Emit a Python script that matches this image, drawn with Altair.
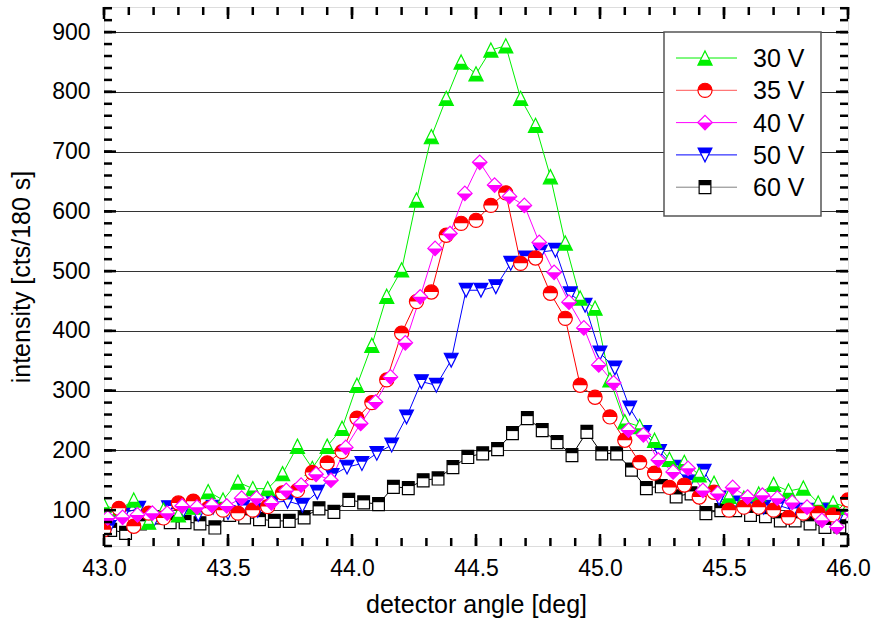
import altair as alt
import pandas as pd

# ---------------- data ----------------
angles = [round(43.0 + 0.06 * k, 3) for k in range(51)]

v30 = [108, 100, 117, 80, 100, 92, 105, 131, 117, 147, 136, 136, 161, 207, 170, 207, 237, 309, 376, 458,
       502, 619, 725, 789, 850, 830, 870, 877, 789, 744, 658, 547, 455, 438, 318, 248, 240, 217, 185, 180,
       159, 145, 123, 120, 127, 143, 132, 137, 112, 112, 105]
v35 = [67, 103, 73, 95, 87, 112, 115, 103, 100, 95, 100, 106, 129, 133, 163, 179, 198, 254, 280, 318,
       396, 449, 465, 560, 580, 585, 610, 631, 513, 522, 463, 421, 309, 289, 256, 217, 180, 162, 138, 142,
       122, 130, 100, 105, 105, 100, 88, 95, 95, 92, 117]
v40 = [87, 88, 92, 95, 95, 107, 105, 108, 107, 120, 120, 112, 133, 142, 160, 150, 205, 245, 281, 323,
       380, 457, 538, 563, 630, 682, 644, 625, 610, 548, 498, 448, 405, 343, 313, 234, 226, 184, 164, 170,
       133, 128, 138, 122, 125, 120, 113, 105, 83, 72, 95]
v50 = [71, 95, 103, 83, 104, 100, 93, 105, 96, 105, 100, 113, 115, 108, 130, 158, 172, 178, 195, 209,
       256, 315, 309, 351, 468, 468, 474, 513, 522, 532, 535, 462, 443, 363, 338, 271, 230, 198, 172, 147,
       165, 120, 112, 108, 105, 108, 100, 100, 100, 88, 108]
v60 = [67, 62, 78, 88, 80, 80, 78, 71, 92, 88, 85, 82, 82, 88, 103, 97, 117, 113, 110, 139,
       137, 150, 153, 172, 189, 195, 202, 229, 254, 234, 214, 192, 231, 195, 195, 168, 137, 140, 123, 128,
       95, 100, 100, 92, 90, 83, 83, 78, 72, 73]

series_labels = ["30 V", "35 V", "40 V", "50 V", "60 V"]
series_values = [v30, v35, v40, v50, v60]
series_colors = ["#00f000", "#ff0000", "#ff00ff", "#0000ff", "#000000"]
series_xshift = [0.0, 0.0, 0.015, 0.02, 0.027]

x_labels = [43.0, 43.5, 44.0, 44.5, 45.0, 45.5, 46.0]
y_labels = [100, 200, 300, 400, 500, 600, 700, 800, 900]

# marker shapes (outline, half-fill) in unit coordinates
shapes = {
    "30 V": ("M0,-1L1,1L-1,1Z", "M-0.62,0.25L0.62,0.25L1,1L-1,1Z"),
    "35 V": ("M-1,0A1,1,0,1,1,1,0A1,1,0,1,1,-1,0Z", "M-1,0A1,1,0,0,1,1,0Z"),
    "40 V": ("M0,-1L1,0L0,1L-1,0Z", "M-1,0L1,0L0,1Z"),
    "50 V": ("M-1,-1L1,-1L0,1Z", "M-1,-1L1,-1L0.62,-0.25L-0.62,-0.25Z"),
    "60 V": ("M-0.9,-1L0.9,-1L0.9,1L-0.9,1Z", "M-0.9,-1L0.9,-1L0.9,-0.3L-0.9,-0.3Z"),
}
sizes = {"30 V": 200, "35 V": 200, "40 V": 210, "50 V": 190, "60 V": 170}

rows = []
for lab, vals, dx in zip(series_labels, series_values, series_xshift):
    for k, v in enumerate(vals):
        rows.append({"series": lab, "x": round(angles[k] + dx, 4), "y": v})
df = pd.DataFrame(rows)

W, H = 744, 539
x_scale = alt.Scale(domain=[43.0, 46.0], nice=False, zero=False)
y_scale = alt.Scale(domain=[40, 942], nice=False, zero=False)
FONT = "Liberation Sans"

x_axis = alt.Axis(values=x_labels, format=".1f", title="detector angle [deg]", grid=False, ticks=False,
                  domain=False, labelFontSize=23, labelPadding=11, labelFlush=False, labelColor="black",
                  titleFontSize=25, titleFontWeight="normal", titlePadding=12, titleColor="black",
                  labelFont=FONT, titleFont=FONT)
y_axis = alt.Axis(values=y_labels, title="intensity [cts/180 s]", grid=True, gridColor="#333333",
                  gridWidth=1, ticks=False, domain=False, labelFontSize=23, labelPadding=14,
                  labelFlush=False, labelColor="black", titleFontSize=25, titleFontWeight="normal",
                  titlePadding=17, titleColor="black", labelFont=FONT, titleFont=FONT)

layers = []
layers.append(
    alt.Chart(df).mark_line(strokeWidth=1, clip=True).encode(
        x=alt.X("x:Q", scale=x_scale, axis=x_axis),
        y=alt.Y("y:Q", scale=y_scale, axis=y_axis),
        color=alt.Color("series:N", scale=alt.Scale(domain=series_labels, range=series_colors), legend=None),
    )
)

draw_order = ["60 V", "50 V", "30 V", "35 V", "40 V"]
for lab in draw_order:
    i = series_labels.index(lab)
    col = series_colors[i]
    sub = df[df["series"] == lab]
    outline, half = shapes[lab]
    layers.append(
        alt.Chart(sub).mark_point(shape=outline, size=sizes[lab], filled=True, fill="white", stroke=col,
                                  strokeWidth=1.2, opacity=1, clip=True).encode(x="x:Q", y="y:Q")
    )
    layers.append(
        alt.Chart(sub).mark_point(shape=half, size=sizes[lab], filled=True, fill=col, strokeWidth=0,
                                  opacity=1, clip=True).encode(x="x:Q", y="y:Q")
    )

# inward ticks on all four sides
x_major = pd.DataFrame({"x": x_labels})
x_minor = pd.DataFrame({"x": [round(43.0 + 0.1 * k, 2) for k in range(31)]})
y_major = pd.DataFrame({"y": y_labels})
y_minor = pd.DataFrame({"y": [40 + 20 * k for k in range(46)]})

for d, ln in [(x_minor, 8), (x_major, 12)]:
    layers.append(alt.Chart(d).mark_rule(color="black", strokeWidth=2.5).encode(
        x="x:Q", y=alt.value(H), y2=alt.value(H - ln)))
    layers.append(alt.Chart(d).mark_rule(color="black", strokeWidth=2.5).encode(
        x="x:Q", y=alt.value(0), y2=alt.value(ln)))
for d, ln in [(y_minor, 8), (y_major, 12)]:
    layers.append(alt.Chart(d).mark_rule(color="black", strokeWidth=2.5).encode(
        y="y:Q", x=alt.value(0), x2=alt.value(ln)))
    layers.append(alt.Chart(d).mark_rule(color="black", strokeWidth=2.5).encode(
        y="y:Q", x=alt.value(W), x2=alt.value(W - ln)))

# legend
one = pd.DataFrame({"a": [0]})
layers.append(alt.Chart(one).mark_rect(fill="white", stroke="#555555", strokeWidth=1.5).encode(
    x=alt.value(560), x2=alt.value(717), y=alt.value(25), y2=alt.value(209)))
for i, lab in enumerate(series_labels):
    ypx = 51 + 32.3 * i
    col = series_colors[i]
    lcol = {"35 V": "#ff5555", "60 V": "#808080"}.get(lab, col)
    outline, half = shapes[lab]
    ld = pd.DataFrame({"label": [lab]})
    layers.append(alt.Chart(ld).mark_rule(color=lcol, strokeWidth=1).encode(
        x=alt.value(572), x2=alt.value(633), y=alt.value(ypx)))
    layers.append(alt.Chart(ld).mark_point(shape=outline, size=sizes[lab], filled=True, fill="white",
                                           stroke=col, strokeWidth=1.2, opacity=1).encode(
        x=alt.value(601), y=alt.value(ypx)))
    layers.append(alt.Chart(ld).mark_point(shape=half, size=sizes[lab], filled=True, fill=col,
                                           strokeWidth=0, opacity=1).encode(
        x=alt.value(601), y=alt.value(ypx)))
    layers.append(alt.Chart(ld).mark_text(align="left", baseline="middle", fontSize=25, font=FONT,
                                          color="black").encode(
        x=alt.value(649), y=alt.value(ypx + 1), text="label:N"))

chart = alt.layer(*layers).properties(
    width=W, height=H,
    padding={"left": 104, "top": 7, "right": 24, "bottom": 81},
    autosize=alt.AutoSizeParams(type="none"),
    background="white",
).configure_view(stroke="black", strokeWidth=3).configure(font=FONT)

chart.save("out.html", embed_options={"renderer": "svg", "actions": False})
